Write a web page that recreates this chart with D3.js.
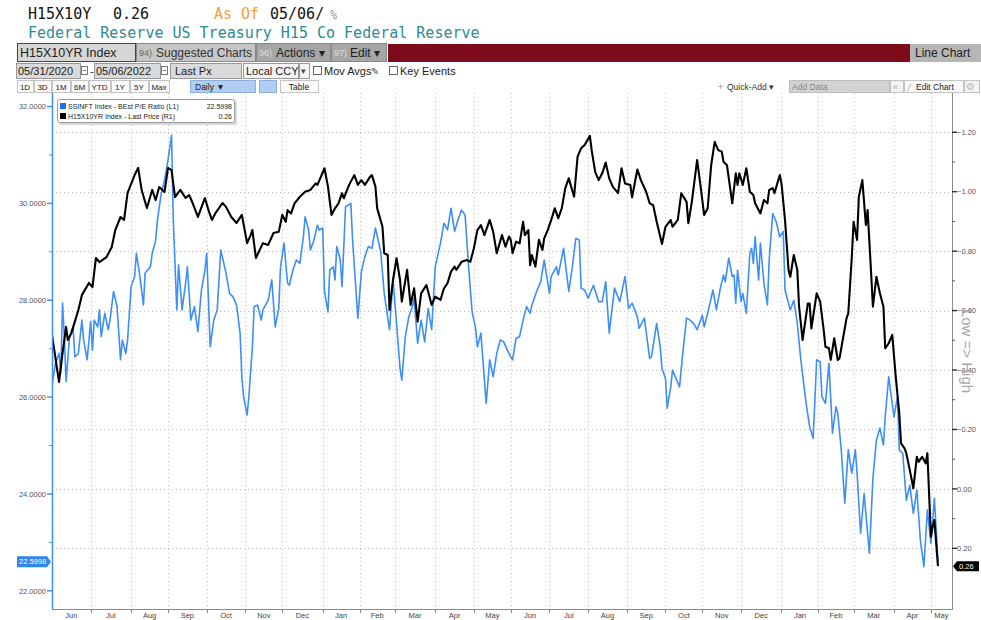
<!DOCTYPE html>
<html>
<head>
<meta charset="utf-8">
<script src="https://cdn.jsdelivr.net/npm/d3@7"></script>
<style>
body { margin: 0; background: #fff; }
svg { display: block; font-family: "Liberation Sans", Arial, sans-serif; }
</style>
</head>
<body>
<svg id="chart" width="981" height="620"></svg>
<script>
// trading-day number counted from 06/01/2020 (weekdays only)
const blueDays = [0,2,4,5,6,7,8,10,12,13,15,17,18,20,22,23,24,26,27,28,30,32,33,35,37,39,40,42,43,45,47,48,50,52,53,56,57,59,60,62,64,66,68,69,71,72,74,76,77,79,81,83,85,87,88,90,92,94,96,99,101,103,105,107,108,109,111,112,114,115,117,119,120,123,125,127,129,130,132,134,135,137,139,141,143,144,146,147,149,151,152,154,155,157,158,160,161,162,164,165,167,170,171,174,176,178,180,182,184,187,189,192,194,196,198,199,201,203,205,206,208,210,212,214,216,218,221,223,225,227,229,231,233,235,237,239,241,242,244,245,247,249,251,253,255,257,259,261,262,264,266,268,270,272,273,276,278,280,283,284,287,288,291,294,296,298,300,301,303,305,308,311,313,315,317,320,323,326,328,330,333,334,337,340,341,344,346,347,349,350,352,353,357,359,361,363,365,367,370,371,373,376,378,380,382,383,385,387,388,389,390,392,393,395,397,398,399,400,402,403,405,407,408,410,412,414,416,417,420,422,424,426,429,431,433,434,435,437,438,440,442,444,446,447,449,451,453,455,457,458,460,462,465,467,469,471,473,474,476,479,481,482,484,486,488,490,492,494,496,498,500,502,504];
const blueVals = [26.25,26.70,26.90,26.49,27.94,27.25,26.32,27.25,27.45,26.83,26.90,27.59,27.18,26.77,27.56,26.97,27.59,27.45,27.80,27.25,27.73,27.39,27.59,28.18,27.87,26.77,27.18,26.90,27.18,28.28,28.49,28.97,28.49,27.90,28.56,28.69,28.97,29.24,29.66,30.17,30.48,30.90,31.41,29.66,27.80,28.73,27.80,28.35,28.69,27.59,27.87,27.35,28.21,28.62,28.97,27.04,27.59,27.80,29.04,28.56,28.14,28.07,27.90,27.32,26.42,26.01,25.63,26.01,27.04,27.87,27.90,27.59,27.80,28.00,28.42,27.45,27.83,28.69,29.18,28.35,28.31,28.62,28.83,28.76,29.31,29.72,29.45,29.04,29.24,29.55,29.45,29.49,28.18,27.76,28.62,28.69,28.42,29.11,28.83,28.28,29.93,30.00,29.24,27.63,28.59,28.90,29.11,29.07,29.49,29.00,28.14,27.39,28.42,27.52,26.59,26.35,27.25,27.66,27.87,28.04,27.11,27.59,27.14,27.83,27.39,28.69,29.18,29.59,29.45,29.90,29.42,29.66,29.86,29.76,28.69,27.76,27.42,27.04,27.32,26.83,25.87,26.77,26.42,26.90,27.18,27.14,26.97,26.83,26.77,27.21,27.25,27.59,27.87,27.73,27.90,28.21,28.38,28.83,28.14,28.49,28.69,28.52,29.07,28.18,28.69,29.28,29.24,28.25,28.21,28.04,28.31,27.97,27.97,28.38,27.32,28.25,27.97,28.49,27.83,27.94,27.66,27.42,27.63,26.80,26.83,27.52,27.04,26.59,26.39,25.77,26.21,26.56,26.21,26.97,27.63,27.59,27.52,27.39,27.69,27.45,27.73,28.21,27.80,28.21,28.52,28.38,28.87,28.49,28.52,27.94,28.62,27.97,28.14,27.73,28.97,29.07,28.76,29.31,28.42,29.18,28.35,27.90,28.83,29.79,29.62,29.31,29.42,28.21,27.80,28.00,27.52,26.77,25.87,25.39,25.15,25.94,26.77,26.73,26.01,25.87,26.70,25.25,25.80,25.67,24.91,23.81,24.91,24.43,24.91,24.43,23.19,24.01,22.77,24.32,25.11,25.36,25.01,25.59,26.42,25.59,26.01,24.91,24.84,23.87,24.18,23.60,24.08,23.05,22.50,23.67,22.98,23.91,22.5998];

const blackDays = [0,4,6,8,9,11,15,17,21,23,25,27,31,34,36,39,41,43,47,49,51,54,57,59,61,64,66,68,70,73,76,78,80,83,87,89,91,93,97,99,102,105,108,111,113,114,116,120,123,126,129,131,133,134,136,138,141,144,147,150,151,153,155,157,159,161,163,165,166,169,170,172,174,176,178,181,182,184,185,188,189,191,192,194,196,198,199,202,204,206,208,210,213,216,218,221,223,225,227,229,230,233,236,238,240,242,244,246,249,251,253,256,258,260,261,262,264,266,268,269,271,272,273,275,277,279,280,282,284,286,288,290,292,294,297,299,301,303,306,307,309,311,313,315,317,319,322,324,326,329,330,333,335,338,340,342,344,347,349,352,353,356,358,361,362,364,367,369,371,373,375,377,379,381,382,384,387,389,390,391,393,395,397,399,400,403,405,407,408,410,411,414,415,417,419,420,422,424,425,427,430,431,432,435,437,439,440,442,443,445,447,448,450,452,453,455,456,458,459,461,463,464,466,467,469,471,473,474,476,478,480,482,483,485,486,488,490,492,493,495,497,498,500,501,502,504];
const blackVals = [-0.518,-0.360,-0.457,-0.545,-0.501,-0.524,-0.602,-0.652,-0.693,-0.679,-0.777,-0.763,-0.780,-0.814,-0.871,-0.915,-0.905,-0.996,-1.056,-1.080,-1.006,-0.945,-1.006,-0.972,-1.016,-0.999,-1.080,-1.073,-0.982,-1.006,-0.979,-0.989,-0.962,-0.915,-0.979,-0.938,-0.905,-0.928,-0.962,-0.949,-0.915,-0.895,-0.922,-0.827,-0.854,-0.871,-0.777,-0.827,-0.821,-0.861,-0.865,-0.922,-0.899,-0.938,-0.927,-0.961,-0.983,-1.000,-1.006,-1.028,-1.023,-1.051,-1.079,-1.017,-0.922,-0.944,-0.961,-0.995,-0.978,-1.023,-1.034,-1.056,-1.023,-1.039,-1.023,-1.051,-1.056,-1.017,-0.944,-0.882,-0.793,-0.787,-0.602,-0.703,-0.776,-0.703,-0.630,-0.737,-0.619,-0.675,-0.563,-0.658,-0.686,-0.619,-0.647,-0.636,-0.675,-0.692,-0.731,-0.748,-0.737,-0.764,-0.770,-0.764,-0.810,-0.871,-0.888,-0.854,-0.905,-0.865,-0.793,-0.854,-0.815,-0.849,-0.838,-0.793,-0.832,-0.826,-0.899,-0.854,-0.871,-0.753,-0.787,-0.748,-0.838,-0.804,-0.843,-0.871,-0.905,-0.944,-0.911,-0.944,-1.012,-1.045,-0.983,-1.118,-1.146,-1.157,-1.188,-1.140,-1.067,-1.039,-1.062,-1.098,-1.045,-1.017,-0.995,-1.079,-1.028,-1.023,-0.981,-1.075,-1.039,-1.000,-0.961,-0.955,-0.899,-0.824,-0.882,-0.905,-0.882,-0.905,-0.995,-0.966,-0.894,-0.966,-1.107,-1.017,-0.922,-0.944,-1.090,-1.168,-1.140,-1.135,-1.101,-1.089,-0.961,-1.062,-1.023,-1.062,-1.023,-1.079,-1.000,-0.989,-0.961,-0.927,-0.972,-0.961,-1.006,-1.012,-0.995,-1.056,-1.028,-0.905,-0.737,-0.714,-0.787,-0.737,-0.613,-0.501,-0.624,-0.624,-0.540,-0.658,-0.630,-0.535,-0.478,-0.473,-0.434,-0.507,-0.434,-0.439,-0.507,-0.574,-0.591,-0.781,-0.899,-0.838,-0.983,-1.039,-0.888,-0.938,-0.725,-0.613,-0.714,-0.658,-0.613,-0.473,-0.490,-0.518,-0.377,-0.254,-0.153,-0.136,-0.120,-0.063,-0.002,-0.108,-0.091,-0.108,-0.086,-0.120,0.161,0.127,0.105,0.26];

const leftTicks = [22, 24, 26, 28, 30, 32];
const rightTicks = [-1.2, -1.0, -0.8, -0.6, -0.4, -0.2, 0, 0.2];
const monthNames = ["Jun","Jul","Aug","Sep","Oct","Nov","Dec","Jan","Feb","Mar","Apr","May",
                    "Jun","Jul","Aug","Sep","Oct","Nov","Dec","Jan","Feb","Mar","Apr","May"];
const legendNames = ["SSINFT Index - BEst P/E Ratio (L1)", "H15X10YR Index - Last Price (R1)"];
const legendLast = ["22.5998", "0.26"];

const svg = d3.select("#chart");
const plot = {left: 52, right: 952, top: 93, bottom: 609};
const blue = "#3d8ff7";

// weekday count from 06/01/2020 up to a date
const startDay = new Date(2020, 5, 1);
function bizIndex(d) {
    let n = 0;
    for (let t = new Date(startDay); t < d; t.setDate(t.getDate() + 1)) {
        if (t.getDay() !== 0 && t.getDay() !== 6) n++;
    }
    return n;
}

const x = d3.scaleLinear().domain([0, 512]).range([plot.left, plot.right]);
const yL = d3.scaleLinear().domain([22, 32]).range([590.8, 106.5]);
const yR = d3.scaleLinear().domain([-1.2, 0.2]).range([132.3, 548.3]);

//----- header
const mono = "DejaVu Sans Mono";
function txt(g, xx, yy, s, size, fill, fam) {
    return g.append("text").attr("x", xx).attr("y", yy).text(s)
        .attr("font-size", size).attr("fill", fill)
        .attr("font-family", fam || null);
}
txt(svg, 28, 19, "H15X10Y", 15, "#111", mono);
txt(svg, 113, 19, "0.26", 15, "#111", mono);
txt(svg, 214, 19, "As Of", 15, "#f4a03c", mono);
txt(svg, 270, 19, "05/06/", 15, "#111", mono);
txt(svg, 330, 19, "%", 12, "#999", mono);
txt(svg, 28, 38, "Federal Reserve US Treasury H15 Co Federal Reserve", 15, "#2b8c92", mono);

//----- toolbar row 1
function box(xx, yy, w, h, fill, stroke) {
    return svg.append("rect").attr("x", xx + 0.5).attr("y", yy + 0.5)
        .attr("width", w).attr("height", h)
        .attr("fill", fill).attr("stroke", stroke || "none")
        .attr("shape-rendering", "crispEdges");
}
box(17, 43, 118, 18, "#d6d6d6", "#444");
txt(svg, 20, 57, "H15X10YR Index", 12.5, "#222");
box(136, 43, 119, 18, "#c6c6c6", "#8a8a8a");
txt(svg, 139, 56, "94)", 9, "#666");
txt(svg, 156, 57, "Suggested Charts", 12, "#333");
box(256, 43, 74, 18, "#a6a6a6", "#8a8a8a");
txt(svg, 259, 56, "96)", 9, "#ddd");
txt(svg, 276, 57, "Actions \u25BE", 12, "#222");
box(331, 43, 55, 18, "#a6a6a6", "#8a8a8a");
txt(svg, 334, 56, "97)", 9, "#ddd");
txt(svg, 350, 57, "Edit \u25BE", 12, "#222");
box(387, 43, 522, 18, "#7e0b1a");
box(909, 43, 72, 18, "#b6b6b6");
txt(svg, 915, 57, "Line Chart", 12, "#222");

//----- toolbar row 2
function calIcon(xx) {
    box(xx, 66, 6, 8, "#fff", "#777");
    svg.append("line").attr("x1", xx + 2).attr("x2", xx + 5).attr("y1", 70.5).attr("y2", 70.5)
        .attr("stroke", "#777");
}
box(16, 63, 64, 15, "#dadada", "#999");
txt(svg, 18, 75, "05/31/2020", 11, "#222");
calIcon(81);
txt(svg, 90, 75, "-", 11, "#222");
box(94, 63, 66, 15, "#dadada", "#999");
txt(svg, 96, 75, "05/06/2022", 11, "#222");
calIcon(161);
box(170, 63, 71, 15, "#dadada", "#999");
txt(svg, 175, 75, "Last Px", 11, "#222");
box(243, 63, 55, 15, "#f4f4f4", "#999");
txt(svg, 246, 75, "Local CCY", 11, "#222");
box(299, 63, 10, 15, "#f4f4f4", "#999");
txt(svg, 301, 74, "\u25BE", 9, "#444");
box(313, 66, 8, 8, "#fff", "#666");
txt(svg, 324, 75, "Mov Avgs", 11, "#222");
txt(svg, 371, 75, "\u270E", 10, "#555", "DejaVu Sans");
box(389, 66, 8, 8, "#fff", "#666");
txt(svg, 400, 75, "Key Events", 11, "#222");

//----- toolbar row 3
const rangeBtns = [["1D", 17, 16], ["3D", 34, 17], ["1M", 52, 18], ["6M", 71, 17], ["YTD", 89, 21],
                   ["1Y", 111, 18], ["5Y", 130, 18], ["Max", 149, 20]];
rangeBtns.forEach(function(b) {
    box(b[1], 80, b[2], 12, "#fafafa", "#c4c4c4");
    txt(svg, b[1] + b[2] / 2, 89.5, b[0], 8, "#222").attr("text-anchor", "middle");
});
box(190, 80, 65, 12, "#b1cdf1", "#8fb0da");
txt(svg, 195, 89.5, "Daily \u25BC", 8.5, "#222");
box(259, 80, 17, 12, "#b1cdf1", "#8fb0da");
box(280, 80, 38, 12, "#fafafa", "#c4c4c4");
txt(svg, 299, 89.5, "Table", 8.5, "#222").attr("text-anchor", "middle");
txt(svg, 718, 90, "+", 9, "#888");
txt(svg, 727, 89.5, "Quick-Add \u25BE", 8.5, "#333");
box(789, 80, 100, 12, "#d2d2d2", "#bdbdbd");
txt(svg, 792, 89.5, "Add Data", 8.5, "#888");
box(890, 80, 13, 12, "#f2f2f2", "#c4c4c4");
txt(svg, 893, 89.5, "\u00AB", 9, "#aaa");
box(904, 80, 59, 12, "#fafafa", "#c4c4c4");
txt(svg, 907, 89.5, "\u2571", 7, "#999", "DejaVu Sans");
txt(svg, 916, 89.5, "Edit Chart", 8.5, "#222");
box(964, 80, 15, 12, "#f2f2f2", "#c4c4c4");
txt(svg, 966, 90, "\u2699", 10, "#bbb", "DejaVu Sans");

//----- grid
const monthStarts = d3.range(1, 24).map(function(m) { return bizIndex(new Date(2020, 5 + m, 1)); });
const grid = svg.append("g").attr("stroke", "#bdbdbd").attr("stroke-dasharray", "1,3");
grid.selectAll(".vg").data(monthStarts).enter().append("line")
    .attr("x1", d => Math.round(x(d)) + 0.5).attr("x2", d => Math.round(x(d)) + 0.5)
    .attr("y1", plot.top).attr("y2", plot.bottom);
grid.selectAll(".hg").data(rightTicks).enter().append("line")
    .attr("x1", plot.left).attr("x2", plot.right)
    .attr("y1", d => Math.round(yR(d)) + 0.5).attr("y2", d => Math.round(yR(d)) + 0.5);

//----- lines
svg.append("clipPath").attr("id", "clip").append("rect")
    .attr("x", plot.left).attr("y", plot.top)
    .attr("width", plot.right - plot.left).attr("height", plot.bottom - plot.top);

const bluePts = blueDays.map((d, i) => [d, blueVals[i]]);
const blackPts = blackDays.map((d, i) => [d, blackVals[i]]);

svg.append("path").datum(bluePts)
    .attr("clip-path", "url(#clip)")
    .attr("fill", "none").attr("stroke", blue).attr("stroke-width", 1.6)
    .attr("stroke-linejoin", "round")
    .attr("d", d3.line().x(d => x(d[0])).y(d => yL(d[1])));

svg.append("path").datum(blackPts)
    .attr("clip-path", "url(#clip)")
    .attr("fill", "none").attr("stroke", "#000").attr("stroke-width", 2.1)
    .attr("stroke-linejoin", "round")
    .attr("d", d3.line().x(d => x(d[0])).y(d => yR(d[1])));

//----- axes
// left (blue)
svg.append("line").attr("x1", plot.left + 0.5).attr("x2", plot.left + 0.5)
    .attr("y1", plot.top).attr("y2", plot.bottom).attr("stroke", blue).attr("stroke-width", 1.5);
svg.selectAll(".lmin").data(d3.range(23, 32, 2)).enter().append("line")
    .attr("x1", plot.left - 3).attr("x2", plot.left)
    .attr("y1", d => yL(d)).attr("y2", d => yL(d))
    .attr("stroke", blue).attr("stroke-width", 1);
svg.selectAll(".lmaj").data(leftTicks).enter().append("line")
    .attr("x1", plot.left - 5).attr("x2", plot.left)
    .attr("y1", d => yL(d)).attr("y2", d => yL(d))
    .attr("stroke", blue).attr("stroke-width", 1.5);
svg.selectAll(".llab").data(leftTicks).enter().append("text")
    .attr("x", plot.left - 6).attr("y", d => yL(d) + 2.7)
    .attr("text-anchor", "end").attr("font-size", 7.5).attr("fill", "#555")
    .text(d3.format(".4f"));

// right
svg.append("line").attr("x1", plot.right + 0.5).attr("x2", plot.right + 0.5)
    .attr("y1", plot.top).attr("y2", plot.bottom).attr("stroke", "#8a8a8a");
svg.selectAll(".rmin").data(d3.range(-1.1, 0.3, 0.2)).enter().append("line")
    .attr("x1", plot.right).attr("x2", plot.right + 3)
    .attr("y1", d => yR(d)).attr("y2", d => yR(d))
    .attr("stroke", "#555");
svg.selectAll(".rmaj").data(rightTicks).enter().append("line")
    .attr("x1", plot.right).attr("x2", plot.right + 5)
    .attr("y1", d => yR(d)).attr("y2", d => yR(d))
    .attr("stroke", "#222").attr("stroke-width", 1.3);
svg.selectAll(".rlab").data(rightTicks).enter().append("text")
    .attr("x", plot.right + 5).attr("y", d => yR(d) + 2.7)
    .attr("font-size", 7.5).attr("fill", "#555")
    .text(d3.format(".2f"));

// bottom
svg.append("line").attr("x1", plot.left).attr("x2", plot.right + 1)
    .attr("y1", plot.bottom + 0.5).attr("y2", plot.bottom + 0.5).attr("stroke", "#8a8a8a");
svg.selectAll(".xt").data(monthStarts).enter().append("line")
    .attr("x1", d => Math.round(x(d)) + 0.5).attr("x2", d => Math.round(x(d)) + 0.5)
    .attr("y1", plot.bottom).attr("y2", plot.bottom + 4).attr("stroke", "#8a8a8a");
const bounds = [0].concat(monthStarts, [512]);
svg.selectAll(".xl").data(monthNames).enter().append("text")
    .attr("x", (d, i) => (x(bounds[i]) + x(bounds[i + 1])) / 2)
    .attr("y", 618).attr("text-anchor", "middle")
    .attr("font-size", 7.5).attr("fill", "#444")
    .text(d => d);

// Low => High
svg.append("text").attr("transform", "translate(962,351) rotate(90)")
    .attr("text-anchor", "middle").attr("font-size", 15).attr("fill", "#a8a8a8")
    .text("Low => High");

//----- last value tags
const yb = yL(blueVals[blueVals.length - 1]);
svg.append("path")
    .attr("d", "M17," + (yb - 5.5) + "H47L51," + yb + "L47," + (yb + 5.5) + "H17Z")
    .attr("fill", "#2f86f2");
txt(svg, 19, yb + 2.6, legendLast[0], 7.5, "#fff");
const yk = yR(blackVals[blackVals.length - 1]);
svg.append("path")
    .attr("d", "M953," + yk + "L957," + (yk - 5) + "H979V" + (yk + 5) + "H957Z")
    .attr("fill", "#000");
txt(svg, 959, yk + 2.6, legendLast[1], 7.5, "#fff");

//----- legend
svg.append("rect").attr("x", 59).attr("y", 101).attr("width", 178).attr("height", 24)
    .attr("rx", 2).attr("fill", "#d8d8d8");
svg.append("rect").attr("x", 57.5).attr("y", 99.5).attr("width", 177).attr("height", 23)
    .attr("rx", 2).attr("fill", "#fff").attr("stroke", "#9a9a9a");
const lg = svg.selectAll(".lg").data(legendNames).enter().append("g")
    .attr("transform", (d, i) => "translate(60," + (103 + i * 10) + ")");
lg.append("rect").attr("width", 6).attr("height", 6)
    .attr("fill", (d, i) => i === 0 ? "#1a6ff2" : "#000");
lg.append("text").attr("x", 8).attr("y", 6).attr("font-size", 7).attr("fill", "#222").text(d => d);
lg.append("text").attr("x", 172).attr("y", 6).attr("text-anchor", "end")
    .attr("font-size", 7).attr("fill", "#222").text((d, i) => legendLast[i]);
</script>
</body>
</html>
